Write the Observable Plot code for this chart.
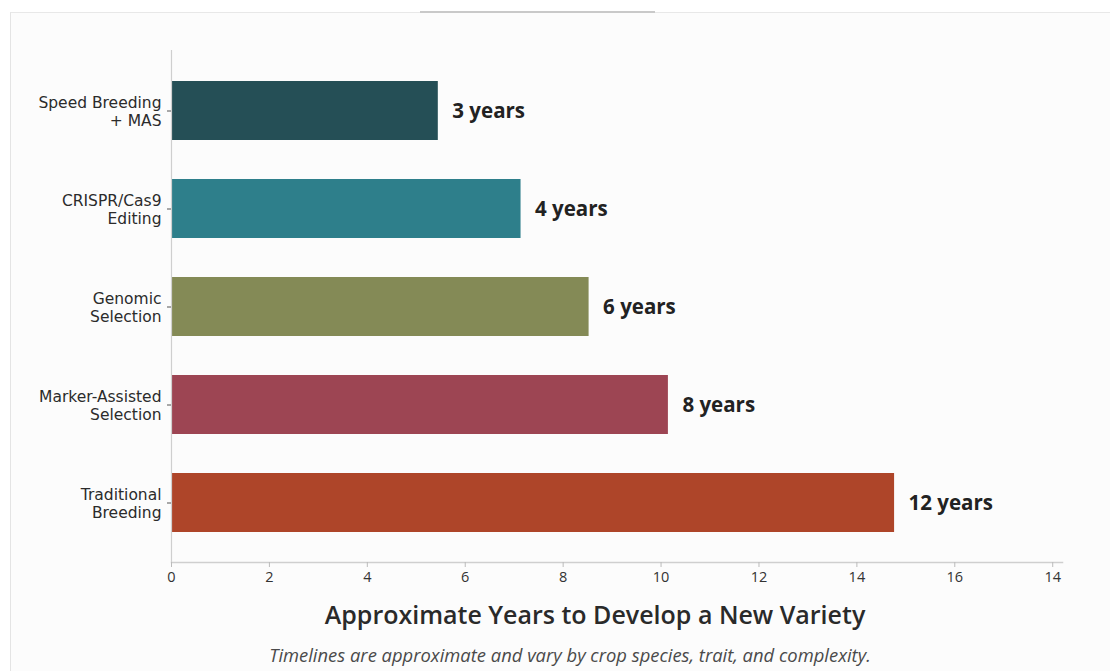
<!DOCTYPE html>
<html>
<head>
<meta charset="utf-8">
<script src="https://cdn.jsdelivr.net/npm/d3@7"></script>
<script src="https://cdn.jsdelivr.net/npm/@observablehq/plot@0.6"></script>
<style>
  html, body { margin: 0; padding: 0; background: #ffffff; }
  body { width: 1110px; height: 671px; position: relative; overflow: hidden; font-family: "Open Sans", "Noto Sans", sans-serif; }
  #card { position: absolute; left: 10px; top: 12px; width: 1110px; height: 680px; background: #fcfcfc; border-left: 1px solid #e4e4e4; border-top: 1px solid #e8e8e8; }
  #ghost { position: absolute; left: 420px; top: 11px; width: 235px; height: 2px; background: #c9c9c9; }
  #chart { position: absolute; left: 0; top: 0; }
  #xtitle { position: absolute; left: 0; width: 1190px; top: 597px; text-align: center; font-size: 25px; font-weight: 600; color: #2a2a2a; font-family: "Open Sans", sans-serif; }
  #caption { position: absolute; left: 0; width: 1140px; top: 642px; text-align: center; font-size: 18.4px; font-style: italic; color: #4a4a4a; font-family: "Open Sans", sans-serif; }
</style>
</head>
<body>
<div id="card"></div>
<div id="ghost"></div>
<div id="chart"></div>
<div id="xtitle">Approximate Years to Develop a New Variety</div>
<div id="caption">Timelines are approximate and vary by crop species, trait, and complexity.</div>
<script>
const methods = ["Speed Breeding\n+ MAS", "CRISPR/Cas9\nEditing", "Genomic\nSelection", "Marker-Assisted\nSelection", "Traditional\nBreeding"];
const barLengths = [5.45, 7.14, 8.53, 10.15, 14.77];
const valueLabels = ["3 years", "4 years", "6 years", "8 years", "12 years"];
const colors = ["#254f56", "#2e7f8b", "#848a56", "#9d4553", "#ae4529"];
const tickValues = [0, 2, 4, 6, 8, 10, 12, 14, 16, 18];
const tickLabels = ["0", "2", "4", "6", "8", "10", "12", "14", "16", "14"];

const data = methods.map((m, i) => ({method: m, len: barLengths[i], label: valueLabels[i], color: colors[i]}));

const chart = Plot.plot({
  width: 1110,
  height: 600,
  marginLeft: 171,
  marginRight: 48,
  marginTop: 50,
  marginBottom: 38,
  style: {background: "transparent", fontFamily: "'Open Sans', sans-serif"},
  x: {domain: [0, 18.2], axis: null},
  y: {domain: methods, paddingInner: 0.4, paddingOuter: 0.31, axis: null},
  marks: [
    Plot.barX(data, {x: "len", y: "method", fill: "color"}),
    Plot.text(data, {x: "len", y: "method", text: "label", textAnchor: "start", dx: 14, fontSize: 20.5, fontWeight: 700, fill: "#222"}),
    Plot.ruleX([0], {stroke: "#cfcfcf", strokeWidth: 1.2}),
    Plot.frame({anchor: "bottom", stroke: "#cfcfcf", strokeWidth: 1.5}),
    Plot.axisX({anchor: "bottom", ticks: tickValues, tickFormat: (d, i) => tickLabels[i], tickSize: 5, tickPadding: 4, fontSize: 14.5, color: "#333", stroke: "#bbb", label: null}),
    Plot.axisY({anchor: "left", tickSize: 4, tickPadding: 6, fontSize: 15.5, fontFamily: "'DejaVu Sans', sans-serif", color: "#2b2b2b", stroke: "#555", label: null, lineHeight: 1.18})
  ]
});
document.getElementById("chart").appendChild(chart);
</script>
</body>
</html>
